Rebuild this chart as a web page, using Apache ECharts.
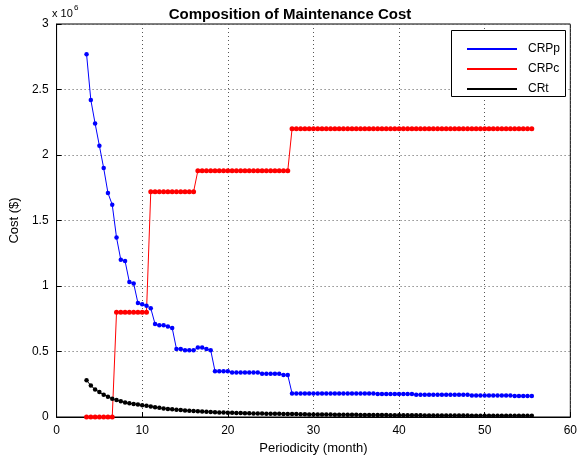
<!DOCTYPE html>
<html><head><meta charset="utf-8">
<script src="https://cdn.jsdelivr.net/npm/echarts@6/dist/echarts.min.js"></script>
<style>body{margin:0;background:#fff}#c{width:580px;height:463px}</style></head>
<body><div id="c"></div>
<script>
const xStart = 3.5, xStep = 0.5;
const crpp = [2.77,2.42,2.24,2.07,1.90,1.71,1.62,1.37,1.20,1.19,1.03,1.02,0.87,0.86,0.85,0.83,0.71,0.70,0.70,0.69,0.68,0.52,0.52,0.51,0.51,0.51,0.53,0.53,0.52,0.51,0.35,
0.35,0.35,0.35,0.34,0.34,0.34,0.34,0.34,0.34,0.34,0.33,0.33,0.33,0.33,0.33,0.32,0.32,
0.18,0.18,0.18,0.18,0.18,0.18,0.18,0.18,0.18,0.18,0.18,0.18,0.18,0.18,0.18,0.18,0.18,0.18,0.18,0.18,0.175,0.175,0.175,0.175,0.175,0.175,0.175,0.175,0.175,0.17,0.17,0.17,0.17,0.17,0.17,0.17,0.17,0.17,0.17,0.17,0.17,0.17,0.165,0.165,0.165,0.165,0.165,0.165,0.165,0.165,0.165,0.165,0.16,0.16,0.16,0.16,0.16];
const crpc = [0,0,0,0,0,0,0,
0.8,0.8,0.8,0.8,0.8,0.8,0.8,0.8,
1.72,1.72,1.72,1.72,1.72,1.72,1.72,1.72,1.72,1.72,1.72,
1.88,1.88,1.88,1.88,1.88,1.88,1.88,1.88,1.88,1.88,1.88,1.88,1.88,1.88,1.88,1.88,1.88,1.88,1.88,1.88,1.88,1.88,
2.2,2.2,2.2,2.2,2.2,2.2,2.2,2.2,2.2,2.2,2.2,2.2,2.2,2.2,2.2,2.2,2.2,2.2,2.2,2.2,2.2,2.2,2.2,2.2,2.2,2.2,2.2,2.2,2.2,2.2,2.2,2.2,2.2,2.2,2.2,2.2,2.2,2.2,2.2,2.2,2.2,2.2,2.2,2.2,2.2,2.2,2.2,2.2,2.2,2.2,2.2,2.2,2.2,2.2,2.2,2.2,2.2];
const crt = [0.28,0.24,0.21,0.19,0.17,0.155,0.14,0.13,0.12,0.11,0.105,0.10,0.095,0.09,0.085,0.08,0.075,0.07,0.065,0.062,0.06,0.056,0.053,0.05,0.048,0.046,0.044,0.042,0.04,0.038,0.036,
0.035,0.034,0.033,0.032,0.031,0.03,0.029,0.028,0.027,0.026,0.026,0.025,0.025,0.024,0.024,0.023,0.023,
0.022,0.022,0.021,0.021,0.02,0.02,0.02,0.019,0.019,0.019,0.018,0.018,0.018,0.017,0.017,0.017,0.016,0.016,0.016,0.015,0.015,0.015,0.015,0.014,0.014,0.014,0.014,0.013,0.013,0.013,0.013,0.012,0.012,0.012,0.012,0.012,0.011,0.011,0.011,0.011,0.011,0.011,0.010,0.010,0.010,0.010,0.010,0.010,0.010,0.010,0.009,0.009,0.009,0.009,0.009,0.009,0.009];
const xTicks = [0,10,20,30,40,50,60];
const pts = a => a.map((v,i)=>[xStart+xStep*i, v]);
const chart = echarts.init(document.getElementById('c'));
const mk = (name,data,color,sym,w)=>({name,type:'line',data:pts(data),symbol:'circle',symbolSize:sym,
  itemStyle:{color},lineStyle:{color,width:w},animation:false});
const gridLine = {show:true,lineStyle:{type:[1,3],color:'#555',width:1}};
chart.setOption({
  title:{text:'Composition of Maintenance Cost',left:'center',top:2,textStyle:{fontSize:15,fontWeight:'bold',fontFamily:'Liberation Sans',color:'#000'}},
  graphic:[{type:'text',left:52,top:8,style:{text:'x 10',font:'11px Liberation Sans',fill:'#000'}},
    {type:'text',left:74,top:4,style:{text:'6',font:'8px Liberation Sans',fill:'#000'}},
    {type:'rect',right:14,top:30,shape:{width:114,height:66},style:{fill:'#fff',stroke:'#000',lineWidth:1},z:10}],
  legend:{left:462,top:38,orient:'vertical',align:'left',itemWidth:50,itemHeight:2,itemGap:8,icon:'rect',z:20,
    textStyle:{fontSize:12,fontFamily:'Liberation Sans',color:'#000',padding:[0,0,0,6]}},
  grid:{left:52,right:9,top:24,bottom:46,show:true,borderColor:'#000',borderWidth:1},
  xAxis:{type:'value',min:0,max:60,interval:10,name:'Periodicity (month)',nameLocation:'middle',nameGap:22,
    nameTextStyle:{fontSize:13,fontFamily:'Liberation Sans',color:'#000'},
    axisLine:{lineStyle:{color:'#000'}},axisTick:{inside:true},
    axisLabel:{fontSize:12,color:'#000',fontFamily:'Liberation Sans',formatter:v=>xTicks.includes(v)?String(v):''},
    splitLine:gridLine},
  yAxis:{type:'value',min:0,max:3,interval:0.5,name:'Cost ($)',nameLocation:'middle',nameGap:34,
    nameTextStyle:{fontSize:13,fontFamily:'Liberation Sans',color:'#000'},
    axisLine:{show:true,lineStyle:{color:'#000'}},axisTick:{show:true,inside:true},
    axisLabel:{fontSize:12,color:'#000',fontFamily:'Liberation Sans'},
    splitLine:gridLine},
  series:[mk('CRPp',crpp,'#0000ff',4.5,1),mk('CRPc',crpc,'#ff0000',5,1),mk('CRt',crt,'#000000',4.5,1)]
});
</script></body></html>
